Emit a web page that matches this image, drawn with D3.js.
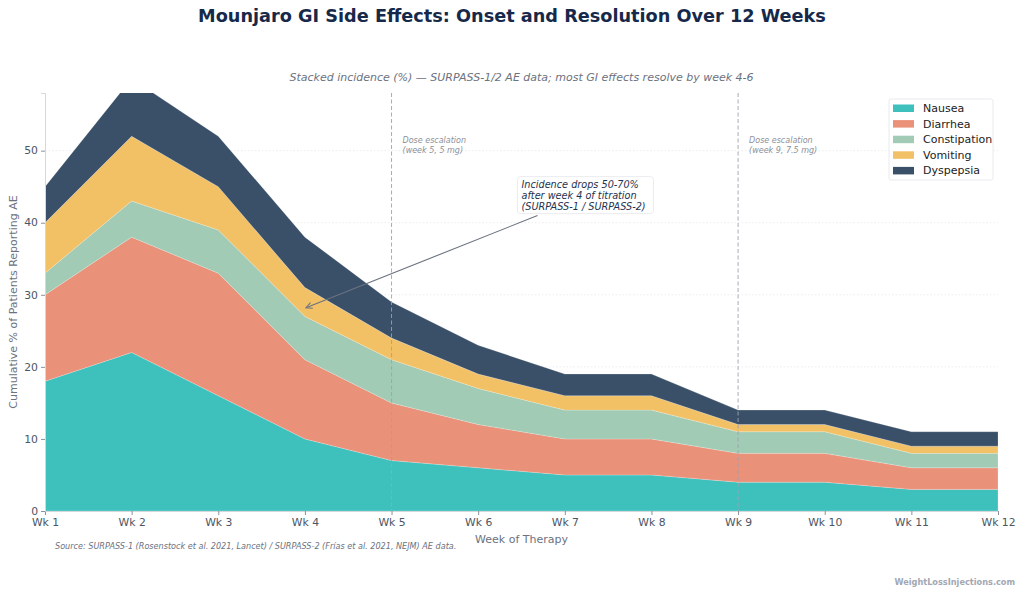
<!DOCTYPE html>
<html>
<head>
<meta charset="utf-8">
<script src="https://cdn.jsdelivr.net/npm/d3@7"></script>
<style>
  body { margin: 0; background: #fff; }
  svg { font-family: "DejaVu Sans", sans-serif; }
</style>
</head>
<body>
<div id="chart"></div>
<script>
// weeks on the x axis
const weeks = ["Wk 1", "Wk 2", "Wk 3", "Wk 4", "Wk 5", "Wk 6", "Wk 7", "Wk 8", "Wk 9", "Wk 10", "Wk 11", "Wk 12"];

// incidence per side effect (%), stacked in this order
const nausea       = [18, 22, 16, 10, 7, 6, 5, 5, 4, 4, 3, 3];
const diarrhea     = [12, 16, 17, 11, 8, 6, 5, 5, 4, 4, 3, 3];
const constipation = [3, 5, 6, 6, 6, 5, 4, 4, 3, 3, 2, 2];
const vomiting     = [7, 9, 6, 4, 3, 2, 2, 2, 1, 1, 1, 1];
const dyspepsia    = [5, 8, 7, 7, 5, 4, 3, 3, 2, 2, 2, 2];

const seriesNames = ["Nausea", "Diarrhea", "Constipation", "Vomiting", "Dyspepsia"];
const colors = ["#3ec1bc", "#ea917a", "#a1cbb4", "#f2c166", "#3a5068"];
const yTicks = [0, 10, 20, 30, 40, 50];

const width = 1024, height = 595;
const margin = {top: 93, right: 26, bottom: 84, left: 45};
const innerW = width - margin.left - margin.right;
const innerH = height - margin.top - margin.bottom;

const svg = d3.select("#chart")
  .append("svg")
    .attr("width", width)
    .attr("height", height);

// build table for the stack
const table = weeks.map(function(w, i) {
  return {
    week: w,
    Nausea: nausea[i],
    Diarrhea: diarrhea[i],
    Constipation: constipation[i],
    Vomiting: vomiting[i],
    Dyspepsia: dyspepsia[i]
  };
});

const stacked = d3.stack().keys(seriesNames)(table);

const x = d3.scalePoint()
  .domain(weeks)
  .range([0, innerW]);

const y = d3.scaleLinear()
  .domain([0, 58])
  .range([innerH, 0]);

const g = svg.append("g")
  .attr("transform", `translate(${margin.left},${margin.top})`);

// clip so the week 2 peak gets cut at the top of the axis
g.append("clipPath")
  .attr("id", "plot-clip")
  .append("rect")
    .attr("width", innerW)
    .attr("height", innerH);

// horizontal grid
g.append("g")
  .selectAll("line")
  .data(yTicks.filter(function(d) { return d > 0; }))
  .enter().append("line")
    .attr("x1", 0)
    .attr("x2", innerW)
    .attr("y1", function(d) { return y(d); })
    .attr("y2", function(d) { return y(d); })
    .attr("stroke", "#e6e8eb")
    .attr("stroke-width", 0.8)
    .attr("stroke-dasharray", "1.5,2");

// stacked areas
const area = d3.area()
  .x(function(d) { return x(d.data.week); })
  .y0(function(d) { return y(d[0]); })
  .y1(function(d) { return y(d[1]); });

g.append("g")
  .attr("clip-path", "url(#plot-clip)")
  .selectAll("path")
  .data(stacked)
  .enter().append("path")
    .attr("d", area)
    .attr("fill", function(d, i) { return colors[i]; })
    .attr("stroke", "#ffffff")
    .attr("stroke-opacity", 0.4)
    .attr("stroke-width", 0.5);

// dose escalation markers
const doseLines = [
  {week: "Wk 5", label: ["Dose escalation", "(week 5, 5 mg)"]},
  {week: "Wk 9", label: ["Dose escalation", "(week 9, 7.5 mg)"]}
];

doseLines.forEach(function(d) {
  g.append("line")
    .attr("x1", x(d.week))
    .attr("x2", x(d.week))
    .attr("y1", 0)
    .attr("y2", innerH)
    .attr("stroke", "#9ca3af")
    .attr("stroke-width", 0.9)
    .attr("stroke-dasharray", "4,2.5");
  const t = g.append("text")
    .attr("y", y(51))
    .attr("font-size", 8)
    .attr("font-style", "italic")
    .attr("fill", "#8b909a");
  d.label.forEach(function(line, i) {
    t.append("tspan")
      .attr("x", x(d.week) + 11)
      .attr("dy", i === 0 ? 0 : 10)
      .text(line);
  });
});

// axes
const xAxis = g.append("g")
  .attr("transform", `translate(0,${innerH})`)
  .call(d3.axisBottom(x).tickSize(4).tickPadding(3));
const yAxis = g.append("g")
  .call(d3.axisLeft(y).tickValues(yTicks).tickSize(4).tickPadding(3));

[xAxis, yAxis].forEach(function(a) {
  a.select(".domain").attr("stroke", "#d5d9de").attr("stroke-width", 1);
  a.selectAll(".tick line").attr("stroke", "#8b909a");
  a.selectAll(".tick text")
    .attr("fill", "#4b5563")
    .attr("font-family", "DejaVu Sans")
    .attr("font-size", 10.8);
});
yAxis.selectAll(".tick text").attr("dy", "0.3em");

// arrow annotation
svg.append("defs").append("marker")
  .attr("id", "arrow")
  .attr("viewBox", "0 0 10 10")
  .attr("refX", 9)
  .attr("refY", 5)
  .attr("markerWidth", 7)
  .attr("markerHeight", 7)
  .attr("orient", "auto")
  .append("path")
    .attr("d", "M1,1 L9,5 L1,9")
    .attr("fill", "none")
    .attr("stroke", "#6b7280")
    .attr("stroke-width", 1.3);

// text box sits between week 6 and week 7
const annoX = (x("Wk 6") + x("Wk 7")) / 2;
g.append("line")
  .attr("x1", annoX + 16)
  .attr("y1", y(41))
  .attr("x2", x("Wk 4") + 1)
  .attr("y2", y(28.2))
  .attr("stroke", "#6b7280")
  .attr("stroke-width", 1.1)
  .attr("marker-end", "url(#arrow)");

const annoLines = ["Incidence drops 50-70%", "after week 4 of titration", "(SURPASS-1 / SURPASS-2)"];
g.append("rect")
  .attr("x", annoX - 4)
  .attr("y", y(46.4))
  .attr("width", 136)
  .attr("height", 37)
  .attr("rx", 3)
  .attr("fill", "#ffffff")
  .attr("stroke", "#e5e7eb")
  .attr("stroke-width", 0.8);
const annoText = g.append("text")
  .attr("font-size", 9.7)
  .attr("font-style", "italic")
  .attr("fill", "#1e3350");
annoLines.forEach(function(line, i) {
  annoText.append("tspan")
    .attr("x", annoX)
    .attr("y", y(46.4) + 11 + i * 11.2)
    .text(line);
});

// legend
const legend = svg.append("g")
  .attr("transform", "translate(889,99)");
legend.append("rect")
  .attr("width", 104)
  .attr("height", 81)
  .attr("rx", 2)
  .attr("fill", "#ffffff")
  .attr("stroke", "#e1e4e8")
  .attr("stroke-width", 0.8);
seriesNames.forEach(function(name, i) {
  const row = legend.append("g")
    .attr("transform", `translate(4,${9 + i * 15.6})`);
  row.append("rect")
    .attr("x", 0)
    .attr("y", -3.5)
    .attr("width", 21)
    .attr("height", 7.5)
    .attr("fill", colors[i]);
  row.append("text")
    .attr("x", 30)
    .attr("y", 4)
    .attr("font-size", 11)
    .attr("fill", "#222")
    .text(name);
});

// titles and labels
svg.append("text")
  .attr("x", 512)
  .attr("y", 22)
  .attr("text-anchor", "middle")
  .attr("font-size", 17.7)
  .attr("font-weight", "bold")
  .attr("fill", "#16294a")
  .text("Mounjaro GI Side Effects: Onset and Resolution Over 12 Weeks");

svg.append("text")
  .attr("x", margin.left + innerW / 2)
  .attr("y", 81)
  .attr("text-anchor", "middle")
  .attr("font-size", 11)
  .attr("font-style", "italic")
  .attr("fill", "#6b7280")
  .text("Stacked incidence (%) \u2014 SURPASS-1/2 AE data; most GI effects resolve by week 4-6");

svg.append("text")
  .attr("transform", `translate(17,${margin.top + innerH / 2}) rotate(-90)`)
  .attr("text-anchor", "middle")
  .attr("font-size", 11)
  .attr("fill", "#6b7280")
  .text("Cumulative % of Patients Reporting AE");

svg.append("text")
  .attr("x", margin.left + innerW / 2)
  .attr("y", 543)
  .attr("text-anchor", "middle")
  .attr("font-size", 11)
  .attr("fill", "#6b7280")
  .text("Week of Therapy");

svg.append("text")
  .attr("x", 55)
  .attr("y", 549)
  .attr("font-size", 8.1)
  .attr("font-style", "italic")
  .attr("fill", "#6b7280")
  .text("Source: SURPASS-1 (Rosenstock et al. 2021, Lancet) / SURPASS-2 (Frías et al. 2021, NEJM) AE data.");

svg.append("text")
  .attr("x", 1015)
  .attr("y", 585)
  .attr("text-anchor", "end")
  .attr("font-size", 8.2)
  .attr("font-weight", "bold")
  .attr("fill", "#a3a8b3")
  .text("WeightLossInjections.com");
</script>
</body>
</html>
